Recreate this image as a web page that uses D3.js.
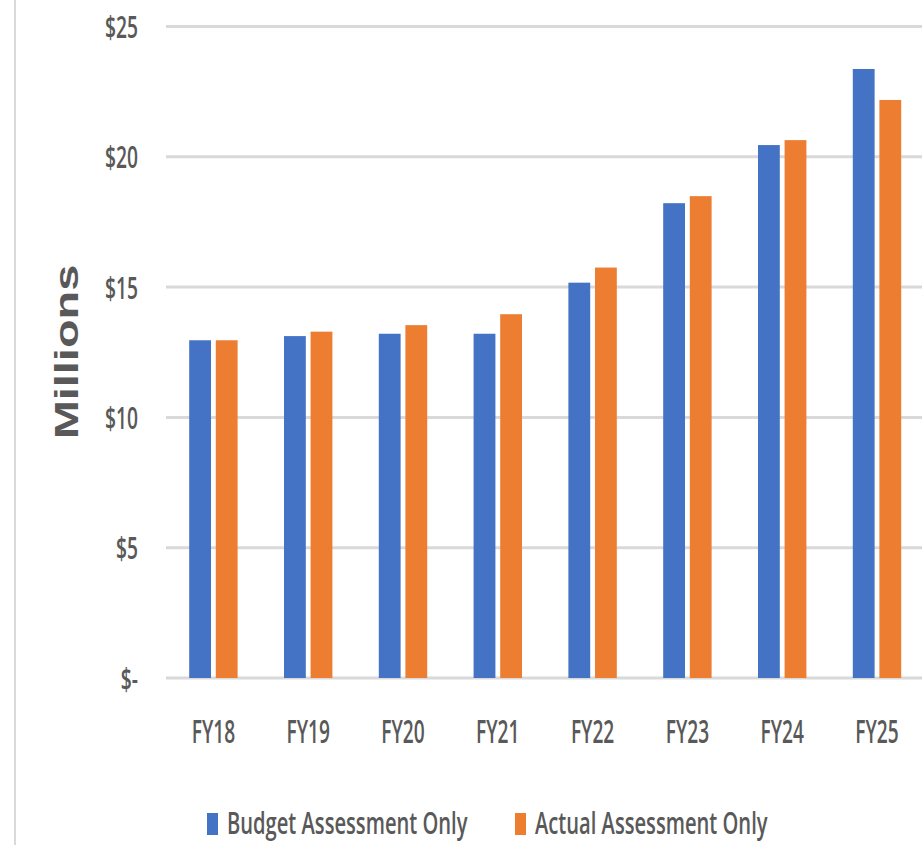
<!DOCTYPE html>
<html>
<head>
    <meta charset='utf-8'>
    <title>Budget vs Actual Assessment</title>
    <style>
        body { margin: 0; background: #fff; }
        svg { display: block; }
    </style>
</head>
<body>
<svg width="922" height="845"></svg>
<script src="https://d3js.org/d3.v7.min.js"></script>
<script>
    const years = ["FY18", "FY19", "FY20", "FY21", "FY22", "FY23", "FY24", "FY25"]
    const seriesNames = ["Budget Assessment Only", "Actual Assessment Only"]
    const budget = [12.96, 13.12, 13.21, 13.21, 15.17, 18.22, 20.45, 23.37]
    const actual = [12.96, 13.29, 13.54, 13.96, 15.75, 18.49, 20.64, 22.18]
    const yTicks = [0, 5, 10, 15, 20, 25]
    const colors = ["#4472C4", "#ED7D31"]

    const width = 922
    const height = 845
    const margin = ({top: 26.5, left: 166, bottom: 678})
    const textColor = "#595959"
    const gridColor = "#D9D9D9"
    const font = "'Open Sans', 'Liberation Sans', sans-serif"

    const rows = years.map((year, i) => ({year, values: [budget[i], actual[i]]}))

    const svg = d3.select("svg")
        .attr("viewBox", [0, 0, width, height])

    // thin frame line on the left edge
    svg.append("line")
        .attr("x1", 15).attr("x2", 15)
        .attr("y1", 0).attr("y2", height)
        .attr("stroke", gridColor)
        .attr("stroke-width", 2)

    const x0 = d3.scaleBand()
        .domain(years)
        .range([margin.left, margin.left + 94.8 * years.length])

    const x1 = d3.scaleBand()
        .domain(d3.range(seriesNames.length))
        .range([0, x0.bandwidth()])
        .paddingInner(0.18)
        .paddingOuter(0.872)

    const y = d3.scaleLinear()
        .domain([0, 25])
        .range([margin.bottom, margin.top])

    // gridlines
    svg.append("g")
        .selectAll("line")
        .data(yTicks)
        .join("line")
        .attr("x1", margin.left)
        .attr("x2", width)
        .attr("y1", d => y(d))
        .attr("y2", d => y(d))
        .attr("stroke", gridColor)
        .attr("stroke-width", 3)

    // y axis labels
    const yAxis = svg.append("g")
        .attr("transform", `translate(${margin.left},0)`)
        .call(d3.axisLeft(y).tickValues(yTicks).tickSize(0)
            .tickFormat(d => d === 0 ? "$-" : "$" + d))
    yAxis.select(".domain").remove()
    yAxis.selectAll("text")
        .attr("x", 0)
        .attr("dy", "0.36em")
        .attr("transform", "translate(-28,0) scale(0.62,1)")
        .attr("fill", textColor)
        .attr("font-family", font)
        .attr("font-weight", 600)
        .attr("font-size", 31)

    // bars
    svg.append("g")
        .selectAll("g")
        .data(rows)
        .join("g")
        .attr("transform", d => `translate(${x0(d.year)},0)`)
        .selectAll("rect")
        .data(d => d.values)
        .join("rect")
        .attr("x", (d, i) => x1(i))
        .attr("width", x1.bandwidth())
        .attr("y", d => y(d))
        .attr("height", d => y(0) - y(d))
        .attr("fill", (d, i) => colors[i])

    // x axis labels
    const xAxis = svg.append("g")
        .attr("transform", `translate(0,${margin.bottom})`)
        .call(d3.axisBottom(x0).tickSize(0))
    xAxis.select(".domain").remove()
    xAxis.selectAll("text")
        .attr("y", 0)
        .attr("dy", 0)
        .attr("transform", "translate(0,65) scale(0.58,1)")
        .attr("fill", textColor)
        .attr("font-family", font)
        .attr("font-weight", 600)
        .attr("font-size", 33)

    // axis title
    svg.append("text")
        .attr("transform", "translate(78,352) rotate(-90) scale(1.38,1)")
        .attr("text-anchor", "middle")
        .attr("fill", textColor)
        .attr("font-family", "'Liberation Sans', Arial, sans-serif")
        .attr("font-weight", "bold")
        .attr("font-size", 34)
        .text("Millions")

    // legend
    const legendX = [207, 515]
    const legend = svg.append("g")
        .selectAll("g")
        .data(seriesNames)
        .join("g")
        .attr("transform", (d, i) => `translate(${legendX[i]},0)`)
    legend.append("rect")
        .attr("x", 0)
        .attr("y", 813)
        .attr("width", 11)
        .attr("height", 22)
        .attr("fill", (d, i) => colors[i])
    legend.append("text")
        .attr("transform", "translate(20,834) scale(0.65,1)")
        .attr("fill", textColor)
        .attr("font-family", font)
        .attr("font-weight", 600)
        .attr("font-size", 31)
        .text(d => d)
</script>
</body>
</html>
